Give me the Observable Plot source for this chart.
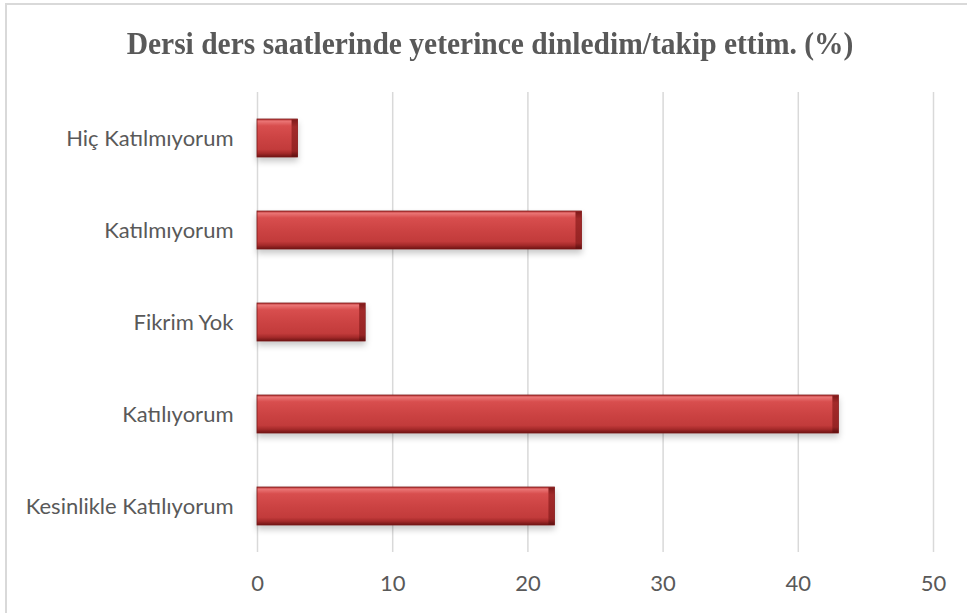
<!DOCTYPE html>
<html>
<head>
<meta charset="utf-8">
<script src="https://cdn.jsdelivr.net/npm/d3@7"></script>
<script src="https://cdn.jsdelivr.net/npm/@observablehq/plot@0.6"></script>
<style>
  html, body { margin: 0; padding: 0; background: #fff; }
  #wrap { position: relative; width: 967px; height: 613px; overflow: hidden; background: #fff; }
  #frame { position: absolute; left: 5px; top: 3px; width: 980px; height: 630px; border-left: 2px solid #d9d9d9; border-top: 2px solid #d9d9d9; box-sizing: border-box; pointer-events: none; }
  #title { position: absolute; left: 0; width: 980px; top: 25px; text-align: center; font-family: "Liberation Serif", "Times New Roman", serif; font-weight: bold; font-size: 29.5px; color: #595959; transform: scaleY(1.1); transform-origin: top; white-space: nowrap; }
  #chart { position: absolute; left: 0; top: 0; }
  .bars { filter: drop-shadow(0px 4px 3px rgba(0,0,0,0.22)); }
</style>
</head>
<body>
<div id="wrap">
  <div id="frame"></div>
  <div id="title">Dersi ders saatlerinde yeterince dinledim/takip ettim. (%)</div>
  <div id="chart"></div>
</div>
<script>
const categories = ["Hiç Katılmıyorum", "Katılmıyorum", "Fikrim Yok", "Katılıyorum", "Kesinlikle Katılıyorum"];
const values = [3, 24, 8, 43, 22];
const xTicks = [0, 10, 20, 30, 40, 50];

const data = categories.map((c, i) => ({category: c, value: values[i]}));

const plot = Plot.plot({
  width: 967,
  height: 613,
  marginLeft: 257,
  marginRight: 34,
  marginTop: 92,
  marginBottom: 61,
  style: {background: "transparent", fontFamily: "Lato, 'Open Sans', sans-serif", fontSize: "22px", color: "#595959"},
  x: {domain: [0, 50], ticks: xTicks, label: null},
  y: {domain: categories, paddingInner: 0.59, paddingOuter: 0.295, label: null},
  marks: [
    Plot.gridX(xTicks, {stroke: "#d9d9d9", strokeOpacity: 1, strokeWidth: 1.5}),
    Plot.axisX({ticks: xTicks, tickSize: 0, tickPadding: 23, label: null, fill: "#595959"}),
    Plot.axisY({tickSize: 0, tickPadding: 24, label: null, fill: "#595959"}),
    Plot.barX(data, {y: "category", x: "value", fill: "url(#barGrad)", stroke: "#7a1818", strokeWidth: 0.8, className: "bars"}),
    Plot.barX(data, {y: "category", x1: "value", x2: "value", insetLeft: -6, fill: "url(#endGrad)", insetTop: 0.4, insetBottom: 0.4})
  ]
});

const svg = d3.select(plot);
const defs = svg.insert("defs", ":first-child");
const g1 = defs.append("linearGradient").attr("id", "barGrad").attr("x1", 0).attr("y1", 0).attr("x2", 0).attr("y2", 1);
[["0%", "#b83636"], ["6%", "#ea7474"], ["18%", "#d84e4e"], ["50%", "#cc4343"], ["80%", "#c23b3b"], ["90%", "#a52a2a"], ["100%", "#6e1414"]]
  .forEach(([o, c]) => g1.append("stop").attr("offset", o).attr("stop-color", c));
const g2 = defs.append("linearGradient").attr("id", "endGrad").attr("x1", 0).attr("y1", 0).attr("x2", 0).attr("y2", 1);
[["0%", "#7e1a1a"], ["20%", "#a22a2a"], ["85%", "#962424"], ["100%", "#5e1010"]]
  .forEach(([o, c]) => g2.append("stop").attr("offset", o).attr("stop-color", c));

document.getElementById("chart").appendChild(plot);
</script>
</body>
</html>
